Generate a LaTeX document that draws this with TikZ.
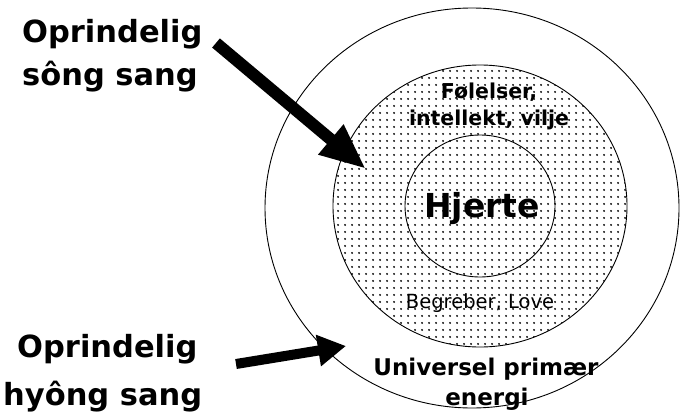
\documentclass[tikz,border=0pt]{standalone}
\usepackage{fontspec}
\setmainfont{DejaVu Sans}
\usetikzlibrary{arrows.meta,patterns.meta}
\tikzset{
  lbl/.style={inner sep=0pt, anchor=base west, font=\fontsize{30.5}{32}\selectfont\bfseries},
  midtxt/.style={inner sep=0pt, anchor=base, font=\fontsize{20.5}{22}\selectfont\bfseries},
  smalltxt/.style={inner sep=0pt, anchor=base, font=\fontsize{19.5}{21}\selectfont},
  outtxt/.style={inner sep=0pt, anchor=base, font=\fontsize{23}{25}\selectfont\bfseries},
  bigtxt/.style={inner sep=0pt, anchor=base, font=\fontsize{33}{35}\selectfont\bfseries},
  ring/.style={draw=black, line width=0.9pt},
  bigarrow/.style={line width=#1, -{Triangle[length=46pt,width=36pt]}},
  smallarrow/.style={line width=#1, -{Triangle[length=28pt,width=30pt]}}
}
\begin{document}
\begin{tikzpicture}[x=1pt,y=-1pt]
\useasboundingbox (0,0) rectangle (682,415);
\fill[white] (0,0) rectangle (682,415);
% outer ellipse
\draw[ring, fill=white] (472,208) ellipse [x radius=207pt, y radius=200pt];
% middle dotted disc
\fill[pattern={Dots[distance=6.5pt, radius=1.1pt]}, pattern color=black] (480,206) ellipse [x radius=147pt, y radius=141pt];
\draw[ring] (480,206) ellipse [x radius=147pt, y radius=141pt];
% inner circle
\draw[ring] (480,206) ellipse [x radius=75pt, y radius=71pt];
% texts
\node[bigtxt] (hj) at (482,217) {Hjerte};
\node[midtxt] (fo) at (489,98) {Følelser,};
\node[midtxt] (in) at (489,125) {intellekt, vilje};
\node[smalltxt] (be) at (480,308) {Begreber, Love};
\node[outtxt] (un) at (486,375) {Universel primær};
\node[outtxt] (en) at (487,405) {energi};
\node[lbl] (l1) at (22,42) {Oprindelig};
\node[lbl] (l2) at (22,85) {sông sang};
\node[lbl] (l3) at (17,357) {Oprindelig};
\node[lbl] (l4) at (3,405) {hyông sang};
% arrows
\coordinate (a1s) at (216,43);
\coordinate (a1e) at (366,169);
\coordinate (a2s) at (236,364);
\coordinate (a2e) at (346,346);
\draw[bigarrow=12pt] (a1s) -- (a1e);
\draw[smallarrow=10pt] (a2s) -- (a2e);
\end{tikzpicture}
\end{document}
